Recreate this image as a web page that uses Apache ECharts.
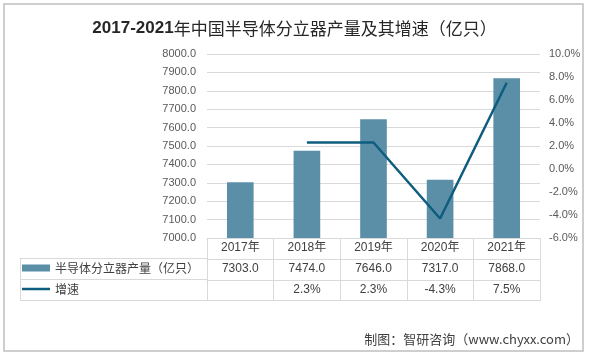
<!DOCTYPE html>
<html>
<head>
<meta charset="utf-8">
<script src="https://cdn.jsdelivr.net/npm/echarts@6/dist/echarts.min.js"></script>
<style>
html,body{margin:0;padding:0;background:#fff;}
#c{width:589px;height:355px;}
</style>
</head>
<body>
<div id="c"></div>
<script>
var years = ['2017年','2018年','2019年','2020年','2021年'];
var output = [7303.0, 7474.0, 7646.0, 7317.0, 7868.0];
var growth = [null, 2.3, 2.3, -4.3, 7.5];
var barName = '半导体分立器产量（亿只）';
var lineName = '增速';

var FONT = '"Liberation Sans","Noto Sans CJK SC",sans-serif';
var CJK = '"Noto Sans CJK SC",sans-serif';
var gridLine = '#d9d9d9';
var txt = '#404040';

function rowAxis(data, offset) {
  return {
    type: 'category', data: data, position: 'bottom', offset: offset,
    gridIndex: 0,
    axisLine: {show: true, onZero: false, lineStyle: {color: gridLine, width: 1}},
    axisTick: {show: true, interval: 0, length: 21, inside: false, lineStyle: {color: gridLine}},
    axisLabel: {show: true, interval: 0, margin: 4, fontSize: 12, color: txt, fontFamily: FONT},
    splitLine: {show: false}
  };
}

var chart = echarts.init(document.getElementById('c'), null, {renderer: 'canvas'});
chart.setOption({
  backgroundColor: '#fff',
  animation: false,
  title: {
    text: '{a|2017-2021}{b|年中国半导体分立器产量及其增速（亿只）}',
    left: 'center', top: 15,
    textStyle: {
      rich: {
        a: {fontSize: 17, fontWeight: 'bold', color: '#262626', fontFamily: '"Liberation Sans",sans-serif'},
        b: {fontSize: 17, fontWeight: 'normal', color: '#262626', fontFamily: CJK}
      }
    }
  },
  grid: {left: 207, right: 49, top: 54, bottom: 117, containLabel: false},
  legend: [
    {data: [{name: barName, icon: 'rect'}], left: 22, top: 262, padding: 0,
     itemWidth: 28, itemHeight: 7, itemGap: 0,
     textStyle: {fontSize: 12, color: txt, fontFamily: CJK}},
    {data: [{name: lineName, icon: 'rect'}], left: 22, top: 283, padding: 0,
     itemWidth: 28, itemHeight: 2.5, itemGap: 0,
     textStyle: {fontSize: 12, color: txt, fontFamily: CJK}}
  ],
  xAxis: [
    rowAxis(years, 0),
    rowAxis(output.map(function(v){return v.toFixed(1);}), 21),
    rowAxis(growth.map(function(v){return v == null ? '' : v.toFixed(1) + '%';}), 42)
  ],
  yAxis: [
    {type: 'value', min: 7000, max: 8000, interval: 100,
     axisLine: {show: false}, axisTick: {show: false},
     axisLabel: {margin: 11, fontSize: 11, color: '#595959', fontFamily: FONT,
       formatter: function(v){return v.toFixed(1);}},
     splitLine: {lineStyle: {color: gridLine, width: 1}}},
    {type: 'value', min: -6, max: 10, interval: 2, position: 'right',
     axisLine: {show: false}, axisTick: {show: false},
     axisLabel: {margin: 9, fontSize: 11, color: '#595959', fontFamily: FONT,
       formatter: function(v){return v.toFixed(1) + '%';}},
     splitLine: {show: false}}
  ],
  series: [
    {name: barName, type: 'bar', xAxisIndex: 0, yAxisIndex: 0, data: output,
     barWidth: '40%', itemStyle: {color: '#5b8fa8'}},
    {name: lineName, type: 'line', xAxisIndex: 0, yAxisIndex: 1, data: growth,
     symbol: 'none', connectNulls: false,
     lineStyle: {color: '#0e5d7e', width: 2.5}, itemStyle: {color: '#0e5d7e'}}
  ],
  graphic: [
    {type: 'rect', shape: {x: 4, y: 4, width: 579, height: 347},
     style: {fill: 'none', stroke: '#bfbfbf', lineWidth: 1.5}, silent: true},
    {type: 'line', shape: {x1: 20, y1: 258.5, x2: 207, y2: 258.5}, style: {stroke: gridLine, lineWidth: 1}},
    {type: 'line', shape: {x1: 20, y1: 279.5, x2: 207, y2: 279.5}, style: {stroke: gridLine, lineWidth: 1}},
    {type: 'line', shape: {x1: 20, y1: 300.5, x2: 540, y2: 300.5}, style: {stroke: gridLine, lineWidth: 1}},
    {type: 'line', shape: {x1: 20.5, y1: 258.5, x2: 20.5, y2: 300.5}, style: {stroke: gridLine, lineWidth: 1}},
    {type: 'text', right: 10, top: 333,
     style: {text: '制图：智研咨询（www.chyxx.com）', fontSize: 13, fill: txt, fontFamily: CJK}}
  ]
});
</script>
</body>
</html>
